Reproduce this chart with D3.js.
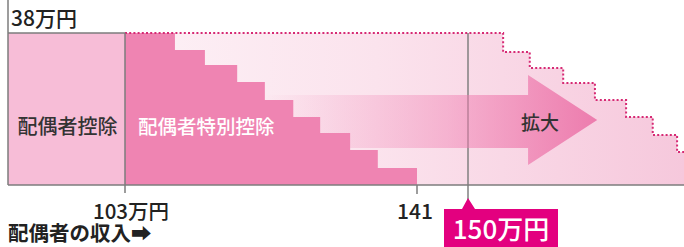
<!DOCTYPE html>
<html>
<head>
<meta charset="utf-8">
<script src="https://cdn.jsdelivr.net/npm/d3@7"></script>
<style>
  body { margin: 0; background: #fff; }
  svg { display: block; font-family: "Noto Sans CJK JP", "Noto Sans", sans-serif; }
</style>
</head>
<body>
<svg id="chart" width="684" height="247"></svg>
<script>
// income (万円) breakpoints of the old special deduction steps, and step heights (万円)
var oldSteps = [103, 109.5, 113.4, 117.6, 121.2, 124.9, 128.4, 132.3, 135.9, 141]
var oldLevels = [38, 33.75, 30, 25.75, 21.25, 17, 13, 8.75, 4.25]

// new (expanded) steps, dotted outline
var newSteps = [103, 156.2, 160.9, 166.8, 172.4, 177.9, 182.6, 186.9, 192]
var newLevels = [38, 33.25, 29.25, 25.5, 21.25, 17, 12.5, 8.25]

// axis marks
var tickValues = [103, 141, 150]
var tickLabels = ['103万円', '141', '150万円']

// arrow "拡大" in data units
var arrowX = [121, 160.6, 172.8]      // shaft start, head base, tip
var arrowY = [22.5, 9.25, 27.5, 5]    // shaft top, shaft bottom, head top, head bottom

var svg = d3.select('#chart')
var left = 8, plotTop = 33, plotBottom = 185, W = 684

var x = d3.scaleLinear().domain([103, 141, 150]).range([125, 417, 468])
var y = d3.scaleLinear().domain([0, 38]).range([plotBottom, plotTop])

var defs = svg.append('defs')
var bg = defs.append('linearGradient').attr('id', 'bgGrad')
    .attr('gradientUnits', 'userSpaceOnUse')
    .attr('x1', x(103)).attr('x2', W).attr('y1', 0).attr('y2', 0)
bg.append('stop').attr('offset', 0).attr('stop-color', '#fdf1f6')
bg.append('stop').attr('offset', 0.45).attr('stop-color', '#fbe3ed')
bg.append('stop').attr('offset', 1).attr('stop-color', '#f6c8dc')

var ag = defs.append('linearGradient').attr('id', 'arrowGrad')
    .attr('gradientUnits', 'userSpaceOnUse')
    .attr('x1', x(arrowX[0])).attr('x2', x(arrowX[2])).attr('y1', 0).attr('y2', 0)
ag.append('stop').attr('offset', 0).attr('stop-color', '#f07fb1').attr('stop-opacity', 0)
ag.append('stop').attr('offset', 0.55).attr('stop-color', '#f07fb1').attr('stop-opacity', 0.45)
ag.append('stop').attr('offset', 1).attr('stop-color', '#ec78ab').attr('stop-opacity', 0.95)

function stairPoints(steps, levels) {
    var pts = [[x(steps[0]), y(0)]]
    levels.forEach(function(l, i) {
        pts.push([x(steps[i]), y(l)])
        pts.push([x(steps[i + 1]), y(l)])
    })
    pts.push([x(steps[steps.length - 1]), y(0)])
    return pts
}

// light area under new staircase
var newPts = stairPoints(newSteps, newLevels)
svg.append('path')
    .attr('d', d3.line()(newPts) + 'Z')
    .attr('fill', 'url(#bgGrad)')

// 配偶者控除 block
svg.append('rect')
    .attr('x', left).attr('y', y(38))
    .attr('width', x(103) - left).attr('height', y(0) - y(38))
    .attr('fill', '#f7bdd7')

// 150 line (under arrow)
svg.append('line')
    .attr('x1', x(150)).attr('x2', x(150))
    .attr('y1', y(38)).attr('y2', 200)
    .attr('stroke', '#808080').attr('stroke-width', 1.5)

// arrow
var ax = arrowX.map(x), ay = arrowY.map(y)
svg.append('path')
    .attr('d', d3.line()([
        [ax[0], ay[0]], [ax[1], ay[0]], [ax[1], ay[2]], [ax[2], (ay[2] + ay[3]) / 2],
        [ax[1], ay[3]], [ax[1], ay[1]], [ax[0], ay[1]]
    ]) + 'Z')
    .attr('fill', 'url(#arrowGrad)')

// old special deduction staircase
svg.append('path')
    .attr('d', d3.line()(stairPoints(oldSteps, oldLevels)) + 'Z')
    .attr('fill', '#ef84b2')

// dotted new staircase outline
svg.append('path')
    .attr('d', d3.line()(newPts.slice(1, newPts.length - 1)))
    .attr('fill', 'none')
    .attr('stroke', '#d62a74')
    .attr('stroke-width', 2)
    .attr('stroke-dasharray', '2,2.2')

// frame lines
var gray = '#7d7d7d'
svg.append('line').attr('x1', left).attr('x2', left).attr('y1', 0).attr('y2', plotBottom)
    .attr('stroke', gray).attr('stroke-width', 1.5)
svg.append('line').attr('x1', left).attr('x2', x(103)).attr('y1', y(38)).attr('y2', y(38))
    .attr('stroke', gray).attr('stroke-width', 1.5)
svg.append('line').attr('x1', left).attr('x2', W).attr('y1', plotBottom).attr('y2', plotBottom)
    .attr('stroke', gray).attr('stroke-width', 1.5)
svg.append('line').attr('x1', x(103)).attr('x2', x(103)).attr('y1', y(38)).attr('y2', 193)
    .attr('stroke', gray).attr('stroke-width', 1.5)
svg.append('line').attr('x1', x(141)).attr('x2', x(141)).attr('y1', plotBottom).attr('y2', 194)
    .attr('stroke', gray).attr('stroke-width', 1.5)

// texts
svg.append('text').attr('x', 11).attr('y', 26)
    .attr('font-size', 21).attr('font-weight', 500).attr('fill', '#222').text('38万円')

svg.append('text').attr('x', (left + x(103)) / 2 + 1).attr('y', 134)
    .attr('text-anchor', 'middle').attr('font-size', 20).attr('font-weight', 500).attr('fill', '#333').text('配偶者控除')
svg.append('text').attr('x', 138).attr('y', 134)
    .attr('font-size', 19.5).attr('font-weight', 500).attr('fill', '#fff').text('配偶者特別控除')
svg.append('text').attr('x', 521).attr('y', 130)
    .attr('font-size', 19).attr('font-weight', 500).attr('fill', '#333').text('拡大')

svg.append('text').attr('x', x(tickValues[0]) + 6).attr('y', 219)
    .attr('text-anchor', 'middle').attr('font-size', 20.5).attr('font-weight', 500).attr('fill', '#222').text(tickLabels[0])
svg.append('text').attr('x', x(tickValues[1]) - 2).attr('y', 219)
    .attr('text-anchor', 'middle').attr('font-size', 21).attr('font-weight', 500).attr('fill', '#222').text(tickLabels[1])

svg.append('text').attr('x', left).attr('y', 241)
    .attr('font-size', 20.5).attr('font-weight', 'bold').attr('fill', '#222').text('配偶者の収入➡')

// 150万円 callout
var bx = x(tickValues[2])
svg.append('path')
    .attr('d', d3.line()([[bx - 24, 247], [bx - 24, 209], [bx - 6, 209], [bx, 198],
        [bx + 7, 209], [bx + 90, 209], [bx + 90, 247]]) + 'Z')
    .attr('fill', '#e3007f')
svg.append('text').attr('x', bx + 33).attr('y', 239)
    .attr('text-anchor', 'middle').attr('font-size', 26).attr('font-weight', 500).attr('fill', '#fff').text(tickLabels[2])
</script>
</body>
</html>
